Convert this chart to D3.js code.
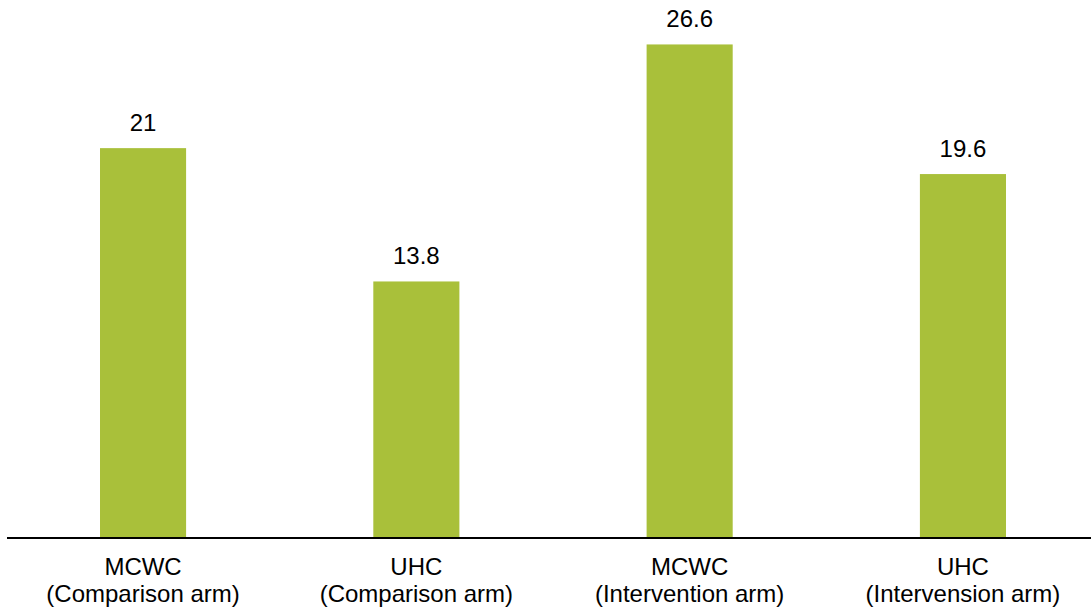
<!DOCTYPE html>
<html>
<head>
<meta charset="utf-8">
<script src="https://cdn.jsdelivr.net/npm/d3@7"></script>
<style>
  html, body { margin: 0; padding: 0; background: #fff; }
  svg { display: block; font-family: "Liberation Sans", Arial, sans-serif; }
</style>
</head>
<body>
<svg id="chart" width="1091" height="609"></svg>
<script>
// Data
const categories = ["MCWC|(Comparison arm)", "UHC|(Comparison arm)", "MCWC|(Intervention arm)", "UHC|(Intervension arm)"];
const values = [21, 13.8, 26.6, 19.6];
const valueLabels = ["21", "13.8", "26.6", "19.6"];

const W = 1091, H = 609;
const baseY = 537;
const svg = d3.select("#chart");

const x = d3.scaleBand()
  .domain(categories)
  .range([6.4, 1099.6])
  .paddingInner(0.685)
  .paddingOuter(0.3425);

const y = d3.scaleLinear().domain([0, 29]).range([baseY, 0]);

// Bars
svg.append("g").selectAll("rect")
  .data(values)
  .join("rect")
  .attr("x", (d, i) => x(categories[i]))
  .attr("y", d => y(d))
  .attr("width", x.bandwidth())
  .attr("height", d => baseY - y(d))
  .attr("fill", "#A9C03A");

// Value labels
svg.append("g").selectAll("text")
  .data(values)
  .join("text")
  .attr("x", (d, i) => x(categories[i]) + x.bandwidth() / 2)
  .attr("y", d => y(d) - 17)
  .attr("text-anchor", "middle")
  .attr("font-size", 24)
  .attr("fill", "#000")
  .text((d, i) => valueLabels[i]);

// Baseline axis
const axis = svg.append("g").attr("transform", `translate(0,${baseY + 1})`)
  .call(d3.axisBottom(x).tickSize(0).tickFormat(""));
axis.select(".domain").attr("d", `M7,0H${W}`).attr("stroke", "#000").attr("stroke-width", 2);

// Two-line category labels
const lab = svg.append("g").selectAll("text")
  .data(categories)
  .join("text")
  .attr("x", d => x(d) + x.bandwidth() / 2)
  .attr("text-anchor", "middle")
  .attr("font-size", 24)
  .attr("fill", "#000");
lab.each(function(d) {
  const parts = d.split("|");
  const t = d3.select(this);
  const cx = x(d) + x.bandwidth() / 2;
  t.append("tspan").attr("x", cx).attr("y", 575).text(parts[0]);
  t.append("tspan").attr("x", cx).attr("y", 602).text(parts[1]);
});
</script>
</body>
</html>
